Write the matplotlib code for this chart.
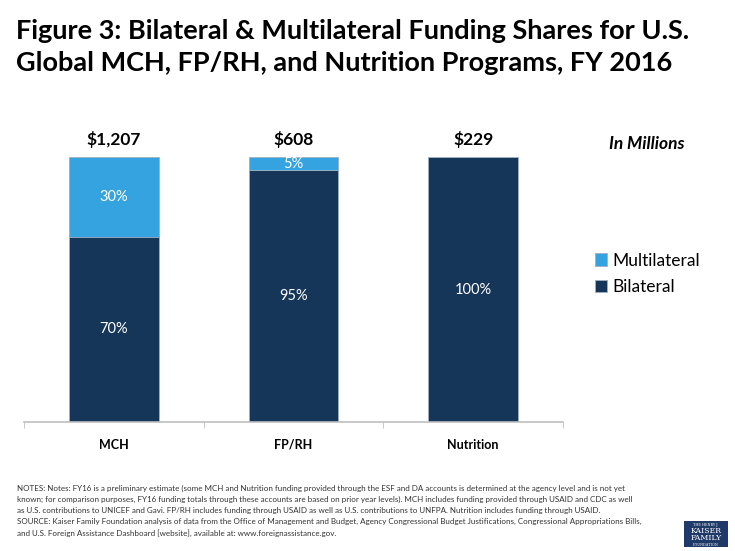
import matplotlib.pyplot as plt
from matplotlib.patches import Rectangle

categories = ["MCH", "FP/RH", "Nutrition"]
bilateral = [70, 95, 100]
multilateral = [30, 5, 0]
totals = ["$1,207", "$608", "$229"]

navy = "#163659"
sky = "#35A3E0"

plt.rcParams['font.family'] = ['Lato', 'DejaVu Sans']

fig = plt.figure(figsize=(7.35, 5.51), dpi=100)
ax = fig.add_axes([24/735, 129/551, 539/735, 302/551])

x = range(len(categories))
ax.bar(x, bilateral, width=0.5, color=navy, edgecolor="#9fb0c2", linewidth=0.6, label="Bilateral")
ax.bar(x, multilateral, width=0.5, bottom=bilateral, color=sky, edgecolor="#9fb0c2", linewidth=0.6, label="Multilateral")

for i in x:
    ax.text(i, bilateral[i] / 2, f"{bilateral[i]}%", ha="center", va="center", color="white", fontsize=10.5)
    if multilateral[i] > 0:
        ax.text(i, bilateral[i] + multilateral[i] / 2, f"{multilateral[i]}%", ha="center", va="center",
                color="white", fontsize=10.5)
    ax.text(i, 106.5, totals[i], ha="center", va="center", fontsize=12.5, fontweight="bold")

ax.set_xlim(-0.5, 2.5)
ax.set_ylim(0, 302 / 265 * 100)
ax.set_yticks([])
ax.set_xticks(x)
ax.set_xticklabels(categories, fontweight="bold", fontsize=9)
ax.set_xticks([-0.5, 0.5, 1.5, 2.5], minor=True)
ax.tick_params(axis="x", which="major", length=0, pad=12)
ax.tick_params(axis="x", which="minor", length=4, color="#bfbfbf")
for s in ["top", "right", "left"]:
    ax.spines[s].set_visible(False)
ax.spines["bottom"].set_color("#bfbfbf")
ax.spines["bottom"].set_linewidth(1.2)

h, l = ax.get_legend_handles_labels()
fig.legend(h[::-1], l[::-1], loc="upper left", bbox_to_anchor=(579/735, 1 - 237/551), frameon=False,
           fontsize=12.5, handlelength=0.7, handleheight=0.7, handletextpad=0.35, labelspacing=0.62)

fig.text(647/735, 1 - 144/551, "In Millions", ha="center", va="center", fontsize=12.5,
         fontweight="bold", fontstyle="italic")

fig.text(16/735, 1 - 31/551, "Figure 3: Bilateral & Multilateral Funding Shares for U.S.", fontsize=19.5,
         fontweight="bold", va="center", color="black")
fig.text(16/735, 1 - 63/551, "Global MCH, FP/RH, and Nutrition Programs, FY 2016", fontsize=19.5,
         fontweight="bold", va="center", color="black")

notes = ("NOTES: Notes: FY16 is a preliminary estimate (some MCH and Nutrition funding provided through the ESF and DA accounts is determined at the agency level and is not yet\n"
         "known; for comparison purposes, FY16 funding totals through these accounts are based on prior year levels). MCH includes funding provided through USAID and CDC as well\n"
         "as U.S. contributions to UNICEF and Gavi. FP/RH includes funding through USAID as well as U.S. contributions to UNFPA. Nutrition includes funding through USAID.\n"
         "SOURCE: Kaiser Family Foundation analysis of data from the Office of Management and Budget, Agency Congressional Budget Justifications, Congressional Appropriations Bills,\n"
         "and U.S. Foreign Assistance Dashboard [website], available at: www.foreignassistance.gov.")
fig.text(17/735, 1 - 485/551, notes, fontsize=5.8, va="top", ha="left", color="#333333", linespacing=1.62)

# logo
fig.patches.append(Rectangle((684/735, 1 - 547/551), 44/735, 26/551, transform=fig.transFigure,
                             facecolor="#1f3a68", edgecolor="none"))
fig.text(706/735, 1 - 525/551, "THE HENRY J.", ha="center", va="center", fontsize=2.4, color="white", family="serif")
fig.text(706/735, 1 - 531/551, "KAISER", ha="center", va="center", fontsize=5.6, color="white", family="serif")
fig.text(706/735, 1 - 538.5/551, "FAMILY", ha="center", va="center", fontsize=5.6, color="white", family="serif")
fig.text(706/735, 1 - 544.5/551, "FOUNDATION", ha="center", va="center", fontsize=2.4, color="white", family="serif")

fig.savefig("out.png", dpi=100)
